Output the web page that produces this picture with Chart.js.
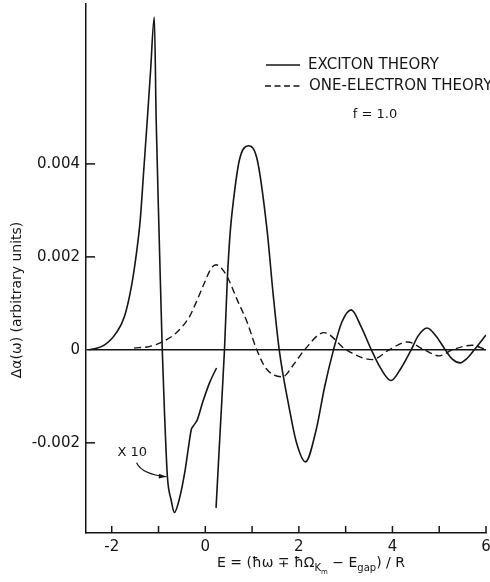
<!DOCTYPE html>
<html>
<head>
<meta charset="utf-8">
<script src="https://cdn.jsdelivr.net/npm/chart.js@4.4.1/dist/chart.umd.min.js"></script>
<style>
  html, body { margin: 0; padding: 0; background: #fff; }
  #wrap { width: 490px; height: 582px; }
</style>
</head>
<body>
<div id="wrap"><canvas id="alphaChart"></canvas></div>
<script>
// axis ranges and ticks
const xMin = -2.55, xMax = 6;
const yMin = -0.00394, yMax = 0.00744;
const xTicks = [-2, -1, 0, 1, 2, 3, 4, 5, 6];
const xTickLabels = ['-2', '', '0', '', '2', '', '4', '', '6'];
const yTicks = [-0.002, 0, 0.002, 0.004];
const yTickLabels = ['-0.002', '0', '0.002', '0.004'];

// exciton theory, left branch (below zero it is drawn x10)
const excitonLeftE = [-2.48, -2.16, -1.9, -1.73, -1.58, -1.47, -1.39, -1.32, -1.24, -1.17, -1.09, -1.05, -0.985, -0.92, -0.87, -0.81, -0.73, -0.66, -0.56, -0.43, -0.36, -0.3, -0.25, -0.17, -0.06, 0.09, 0.24];
const excitonLeftA = [0, 0.0001, 0.00037, 0.00071, 0.00136, 0.00209, 0.0028, 0.0038, 0.00495, 0.006, 0.00716, 0.00495, 0.0024, 0, -0.0014, -0.00273, -0.00323, -0.0035, -0.00323, -0.00258, -0.0021, -0.00172, -0.00163, -0.0015, -0.00114, -0.00071, -0.00039];

// exciton theory, right branch
const excitonRightE = [0.23, 0.32, 0.41, 0.47, 0.53, 0.6, 0.73, 0.92, 1.11, 1.32, 1.45, 1.58, 1.79, 1.95, 2.14, 2.37, 2.55, 2.74, 2.92, 3.12, 3.33, 3.55, 3.75, 3.97, 4.18, 4.4, 4.55, 4.74, 4.93, 5.13, 5.28, 5.45, 5.6, 5.75, 6.0];
const excitonRightA = [-0.0034, -0.0017, 0, 0.0015, 0.0025, 0.0032, 0.00409, 0.00439, 0.00409, 0.00258, 0.0012, 0, -0.00123, -0.002, -0.00241, -0.00172, -0.0008, 0, 0.0006, 0.00086, 0.0005, 0, -0.0004, -0.00066, -0.0004, 0, 0.0003, 0.00047, 0.0003, 0, -0.0002, -0.00028, -0.00018, 0, 0.00032];

// one-electron theory
const oneElectronE = [-1.52, -1.2, -0.92, -0.62, -0.34, -0.2, -0.02, 0.13, 0.23, 0.34, 0.47, 0.68, 0.9, 1.1, 1.3, 1.65, 1.9, 2.12, 2.54, 3.01, 3.57, 3.93, 4.32, 4.68, 5.0, 5.28, 5.7, 6.0];
const oneElectronA = [0.00004, 0.00007, 0.00017, 0.00037, 0.00071, 0.00101, 0.00144, 0.00176, 0.00183, 0.00176, 0.00157, 0.00108, 0.00058, 0, -0.0004, -0.00058, -0.0003, 0, 0.00037, 0, -0.00021, 0, 0.00017, 0, -0.00013, 0, 0.0001, 0];

const toPoints = (xs, ys) => xs.map((v, i) => ({ x: v, y: ys[i] }));
const ink = '#151515';

const decorations = {
  id: 'decorations',
  afterDraw(chart) {
    const { ctx, chartArea: a, scales: { x, y } } = chart;
    ctx.save();
    ctx.strokeStyle = ink;
    ctx.fillStyle = ink;
    ctx.lineWidth = 1.5;

    // inward tick marks
    x.ticks.forEach(t => {
      const px = x.getPixelForValue(t.value);
      ctx.beginPath(); ctx.moveTo(px, a.bottom); ctx.lineTo(px, a.bottom - 7); ctx.stroke();
    });
    y.ticks.forEach(t => {
      if (t.value === 0) return;
      const py = y.getPixelForValue(t.value);
      ctx.beginPath(); ctx.moveTo(a.left, py); ctx.lineTo(a.left + 9, py); ctx.stroke();
    });

    // legend
    ctx.font = '15px "DejaVu Sans"';
    ctx.textBaseline = 'middle';
    ctx.textAlign = 'left';
    ctx.beginPath(); ctx.moveTo(266, 65); ctx.lineTo(300, 65); ctx.stroke();
    ctx.fillText('EXCITON THEORY', 308, 65);
    ctx.setLineDash([6, 3.5]);
    ctx.beginPath(); ctx.moveTo(265, 86); ctx.lineTo(302, 86); ctx.stroke();
    ctx.setLineDash([]);
    ctx.fillText('ONE-ELECTRON THEORY', 309, 86);
    ctx.font = '13px "DejaVu Sans"';
    ctx.textAlign = 'center';
    ctx.fillText('f = 1.0', 375, 115);

    // x10 note with arrow
    ctx.font = '13px "DejaVu Sans"';
    ctx.fillText('X 10', x.getPixelForValue(-1.56), y.getPixelForValue(-0.00221));
    const sx = x.getPixelForValue(-1.47), sy = y.getPixelForValue(-0.00243);
    const ex = x.getPixelForValue(-0.83), ey = y.getPixelForValue(-0.00273);
    const cx = x.getPixelForValue(-1.35), cy = y.getPixelForValue(-0.00268);
    ctx.lineWidth = 1.2;
    ctx.beginPath(); ctx.moveTo(sx, sy); ctx.quadraticCurveTo(cx, cy, ex, ey); ctx.stroke();
    const ang = Math.atan2(ey - cy, ex - cx);
    ctx.beginPath();
    ctx.moveTo(ex, ey);
    ctx.lineTo(ex - 8 * Math.cos(ang - 0.3), ey - 8 * Math.sin(ang - 0.3));
    ctx.lineTo(ex - 8 * Math.cos(ang + 0.3), ey - 8 * Math.sin(ang + 0.3));
    ctx.closePath(); ctx.fill();

    // y title
    ctx.save();
    ctx.translate(17, 300);
    ctx.rotate(-Math.PI / 2);
    ctx.font = '14px "DejaVu Sans"';
    ctx.textAlign = 'center';
    ctx.fillText('\u0394\u03b1(\u03c9) (arbitrary units)', 0, 0);
    ctx.restore();

    // x title with subscripts
    const big = '14px "DejaVu Sans"', sub = '10px "DejaVu Sans"', sub2 = '7px "DejaVu Sans"';
    const parts = [
      { t: 'E = (\u0127\u03c9 \u2213 \u0127\u03a9', f: big, dy: 0 },
      { t: 'K', f: sub, dy: 4 },
      { t: 'm', f: sub2, dy: 7 },
      { t: ' \u2212 E', f: big, dy: 0 },
      { t: 'gap', f: sub, dy: 4 },
      { t: ') / R', f: big, dy: 0 }
    ];
    let total = 0;
    parts.forEach(p => { ctx.font = p.f; p.w = ctx.measureText(p.t).width; total += p.w; });
    let px = 311 - total / 2;
    ctx.textAlign = 'left';
    ctx.textBaseline = 'alphabetic';
    parts.forEach(p => { ctx.font = p.f; ctx.fillText(p.t, px, 567 + p.dy); px += p.w; });

    ctx.restore();
  }
};

const ctx = document.getElementById('alphaChart').getContext('2d');
new Chart(ctx, {
  type: 'line',
  data: {
    datasets: [
      { label: 'EXCITON THEORY', data: toPoints(excitonLeftE, excitonLeftA), borderColor: ink, borderWidth: 1.6, cubicInterpolationMode: 'monotone' },
      { label: 'EXCITON THEORY', data: toPoints(excitonRightE, excitonRightA), borderColor: ink, borderWidth: 1.6, cubicInterpolationMode: 'monotone' },
      { label: 'ONE-ELECTRON THEORY', data: toPoints(oneElectronE, oneElectronA), borderColor: ink, borderWidth: 1.4, borderDash: [7, 4], cubicInterpolationMode: 'monotone' }
    ]
  },
  options: {
    responsive: true,
    maintainAspectRatio: false,
    animation: false,
    layout: { padding: { top: 4, right: 4, left: 0, bottom: 0 } },
    elements: { point: { radius: 0 } },
    plugins: { legend: { display: false }, tooltip: { enabled: false } },
    scales: {
      x: {
        type: 'linear', min: xMin, max: xMax,
        afterBuildTicks: s => { s.ticks = xTicks.map(v => ({ value: v })); },
        afterFit: s => { s.height = 49; s.paddingLeft = 0; s.paddingRight = 0; },
        grid: { display: false, drawTicks: false },
        border: { display: true, color: ink, width: 1.5 },
        ticks: {
          padding: 5, color: ink, font: { family: 'DejaVu Sans', size: 15 },
          maxRotation: 0, autoSkip: false,
          callback: (v, i) => xTickLabels[i]
        }
      },
      y: {
        min: yMin, max: yMax,
        afterBuildTicks: s => { s.ticks = yTicks.map(v => ({ value: v })); },
        afterFit: s => { s.width = 86; s.paddingTop = 0; s.paddingBottom = 0; },
        grid: {
          drawTicks: false,
          lineWidth: 1.5,
          color: c => (c.tick && c.tick.value === 0 ? ink : 'rgba(0,0,0,0)')
        },
        border: { display: true, color: ink, width: 1.5 },
        ticks: {
          padding: 6, color: ink, font: { family: 'DejaVu Sans', size: 15 },
          callback: (v, i) => yTickLabels[i]
        }
      }
    }
  },
  plugins: [decorations]
});
</script>
</body>
</html>
